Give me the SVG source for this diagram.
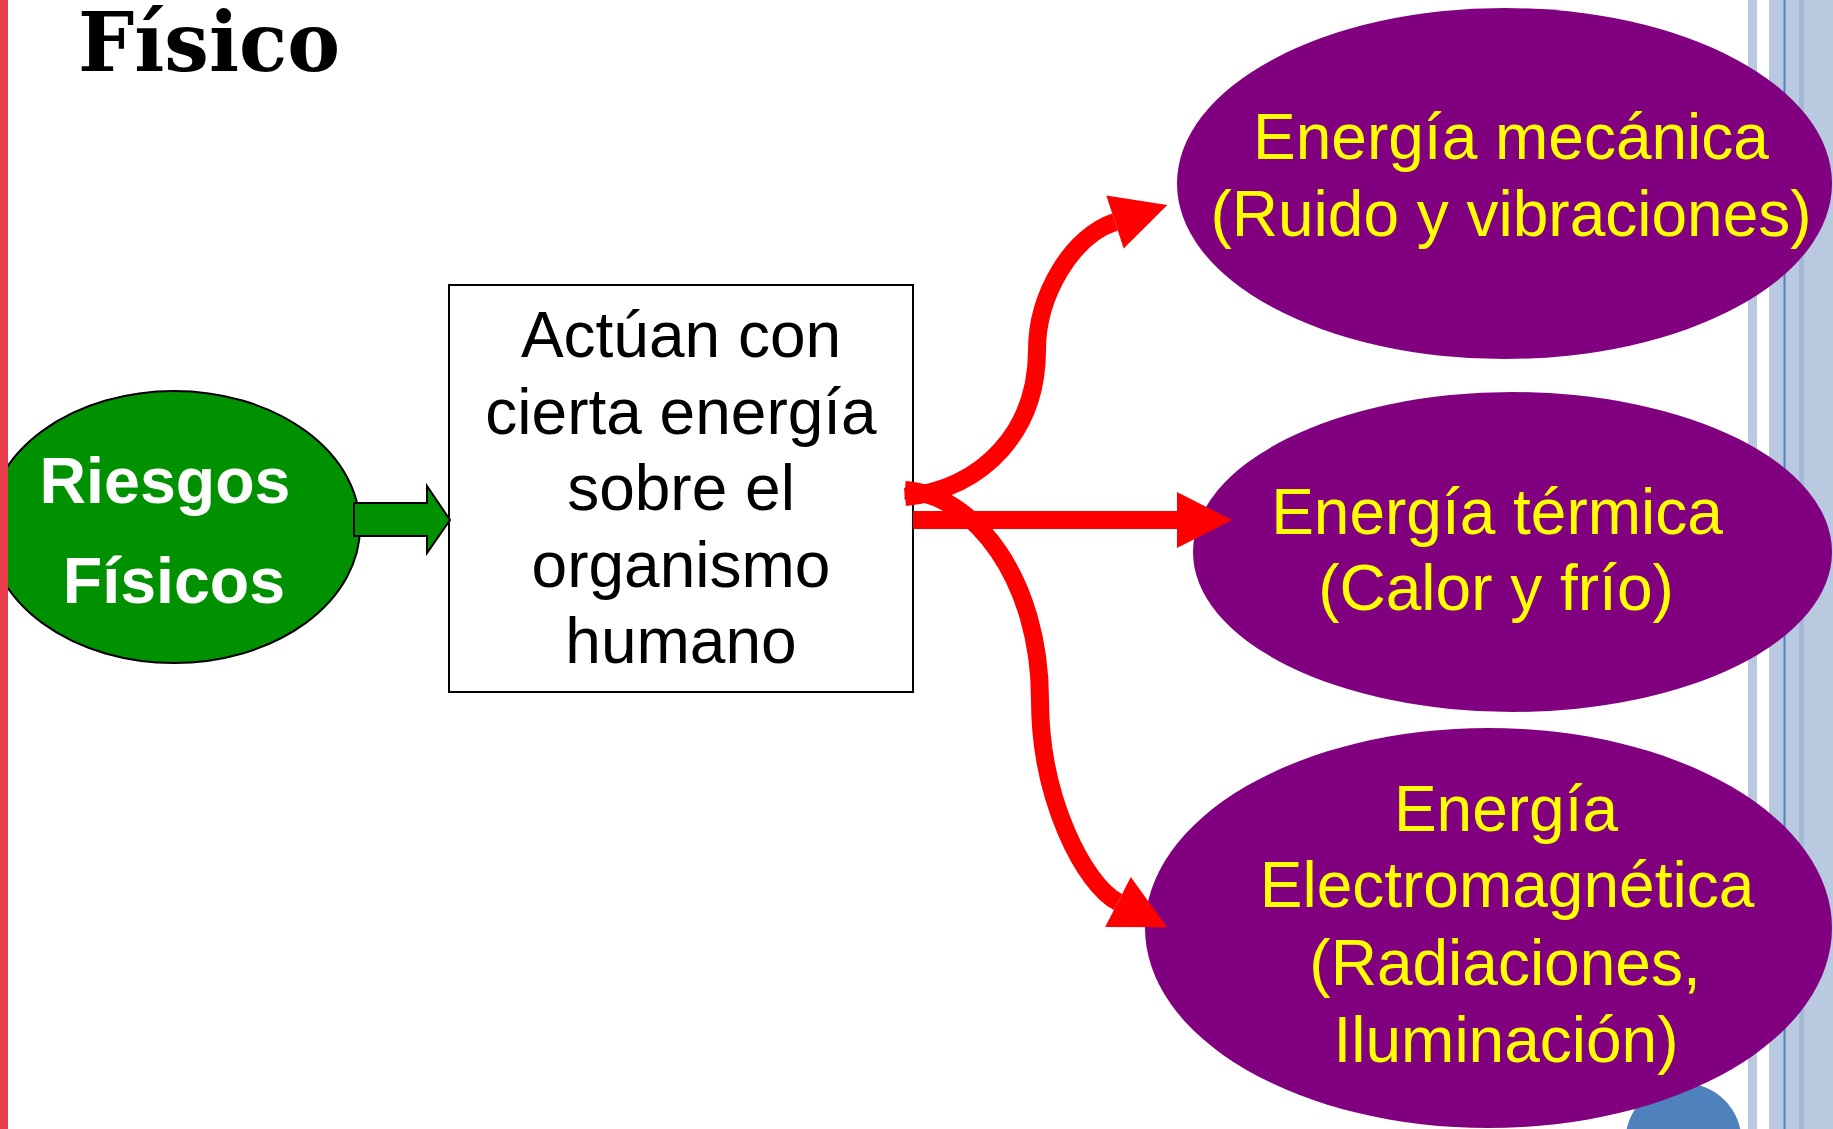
<svg xmlns="http://www.w3.org/2000/svg" width="1833" height="1129" viewBox="0 0 1833 1129">
  <style>
    .sans { font-family: "Liberation Sans", Arial, sans-serif; }
    .yel { fill: #FFFF00; font-size: 64px; text-anchor: middle; }
    .blk { fill: #000000; font-size: 64px; text-anchor: middle; }
    .wht { fill: #FFFFFF; font-size: 64.5px; font-weight: bold; text-anchor: middle; }
    .purple { fill: #800080; }
    .conn { fill: none; stroke: #FF0000; stroke-width: 18; marker-end: url(#ah); }
  </style>
  <defs>
    <marker id="ah" markerUnits="userSpaceOnUse" markerWidth="56" markerHeight="56" viewBox="0 0 56 56" refX="0" refY="28" orient="auto" overflow="visible">
      <path d="M0,0 L55,28 L0,56 z" fill="#FF0000"/>
    </marker>
  </defs>
  <rect x="0" y="0" width="1833" height="1129" fill="#FFFFFF"/>

  <g id="background">
    <rect x="1748" y="0" width="9" height="1129" fill="#B9CAE0"/>
    <rect x="1769" y="0" width="64" height="1129" fill="#B9CAE0"/>
    <rect x="1799" y="0" width="5" height="1129" fill="#A4B8D8"/>
    <rect x="1783.5" y="0" width="2" height="1129" fill="#4F81BD"/>
    <circle cx="1683.5" cy="1141" r="58" fill="#4F81BD"/>
  </g>

  <g id="title">
    <text x="78" y="71" font-family="'DejaVu Serif', 'Liberation Serif', serif" font-weight="bold" font-size="82" textLength="262" lengthAdjust="spacingAndGlyphs">Físico</text>
  </g>

  <g id="node-riesgos">
    <ellipse cx="174" cy="527" rx="186" ry="136" fill="#009100" stroke="#000000" stroke-width="2"/>
    <text class="sans wht" x="165" y="503">Riesgos</text>
    <text class="sans wht" x="174" y="603">Físicos</text>
  </g>

  <g id="node-actuan">
    <rect x="449" y="285" width="464" height="407" fill="#FFFFFF" stroke="#000000" stroke-width="2"/>
    <text class="sans blk" x="681" y="357">Actúan con</text>
    <text class="sans blk" x="681" y="434">cierta energía</text>
    <text class="sans blk" x="681" y="510">sobre el</text>
    <text class="sans blk" x="681" y="587">organismo</text>
    <text class="sans blk" x="681" y="663">humano</text>
  </g>

  <g id="node-mecanica">
    <ellipse class="purple" cx="1504.5" cy="183.5" rx="327.5" ry="175.5"/>
    <text class="sans yel" x="1511" y="159" font-size="61">Energía mecánica</text>
    <text class="sans yel" x="1511" y="236" font-size="61">(Ruido y vibraciones)</text>
  </g>

  <g id="node-termica">
    <ellipse class="purple" cx="1512.5" cy="552" rx="319.5" ry="160"/>
    <text class="sans yel" x="1497" y="534">Energía térmica</text>
    <text class="sans yel" x="1496" y="610">(Calor y frío)</text>
  </g>

  <g id="node-electromagnetica">
    <ellipse class="purple" cx="1488.5" cy="928" rx="343.5" ry="200"/>
    <text class="sans yel" x="1506" y="831">Energía</text>
    <text class="sans yel" x="1507" y="907">Electromagnética</text>
    <text class="sans yel" x="1505" y="985">(Radiaciones,</text>
    <text class="sans yel" x="1506" y="1062">Iluminación)</text>
  </g>

  <g id="left-bar">
    <rect x="0" y="0" width="8" height="1129" fill="#E83C4A"/>
  </g>

  <g id="connectors">
    <polygon points="354,503 427,503 427,486 450,520 427,553 427,536 354,536" fill="#009100" stroke="#000000" stroke-width="2" stroke-linejoin="miter"/>
    <path class="conn" d="M 905 497 C 985 488, 1037 430, 1037 350 C 1037 295, 1072 236, 1115 222"/>
    <path class="conn" d="M 913 520 L 1177 520"/>
    <path class="conn" d="M 905 490 C 975 495, 1040 580, 1040 700 C 1040 800, 1085 885, 1118 902"/>
  </g>
</svg>
